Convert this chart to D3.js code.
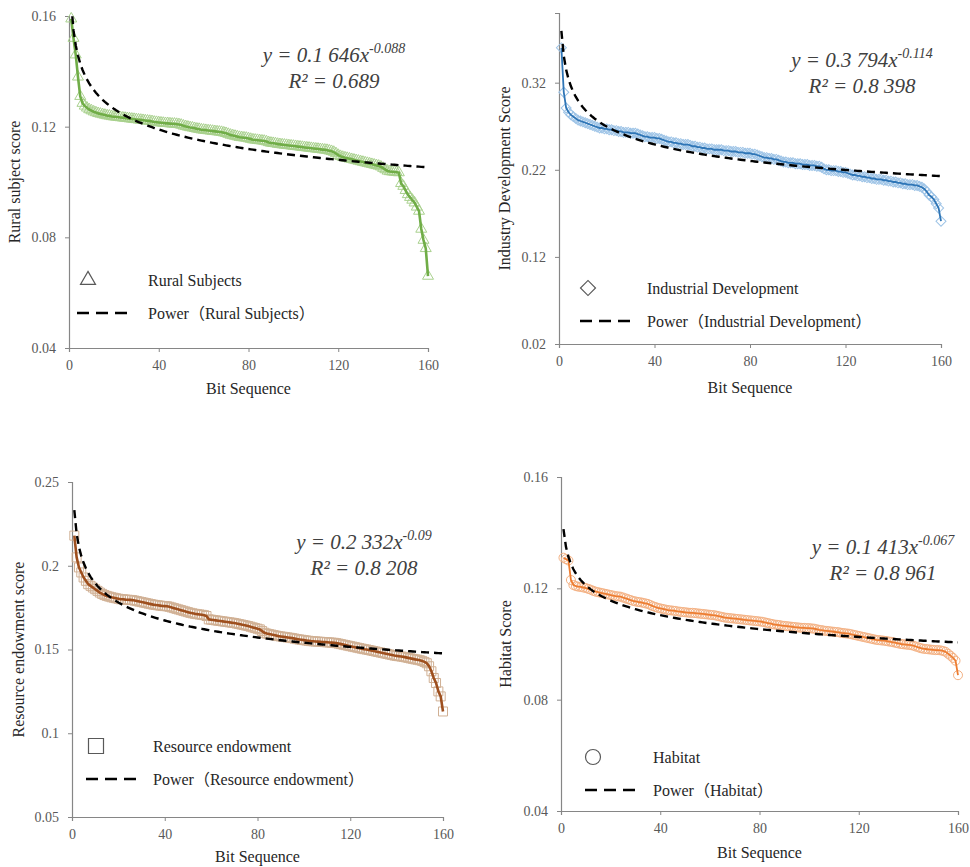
<!DOCTYPE html>
<html>
<head>
<meta charset="utf-8">
<script src="https://cdn.jsdelivr.net/npm/d3@7"></script>
<style>
	body { margin: 0; background: #fff; }
	svg text { font-family: "Times New Roman", "Liberation Serif", "Noto Sans CJK SC", serif; }
</style>
</head>
<body>
<script>
// bit sequence 1..160 (x of every point)
let bitSeq = d3.range(1, 161)

// values, sorted descending
let ruralSubjects = [
	0.159, 0.152, 0.146, 0.138, 0.131, 0.1285, 0.1275, 0.1268, 0.1262, 0.1258,
	0.1254, 0.1251, 0.1248, 0.1246, 0.1244, 0.1242, 0.1240, 0.1239, 0.1237, 0.1236,
	0.1235, 0.1234, 0.1233, 0.1232, 0.1231, 0.1230, 0.1229, 0.1228, 0.1227, 0.1226,
	0.1225, 0.1224, 0.1223, 0.1222, 0.1221, 0.1220, 0.1219, 0.1217, 0.1216, 0.1215,
	0.1214, 0.1213, 0.1212, 0.1212, 0.1211, 0.1210, 0.1210, 0.1209, 0.1208, 0.1206,
	0.1203, 0.1201, 0.1199, 0.1197, 0.1196, 0.1194, 0.1192, 0.1191, 0.1189, 0.1188,
	0.1187, 0.1186, 0.1185, 0.1184, 0.1183, 0.1182, 0.1181, 0.1180, 0.1178, 0.1176,
	0.1173, 0.1170, 0.1168, 0.1166, 0.1164, 0.1162, 0.1161, 0.1160, 0.1159, 0.1157,
	0.1155, 0.1153, 0.1152, 0.1151, 0.1150, 0.1149, 0.1148, 0.1146, 0.1143, 0.1141,
	0.1140, 0.1139, 0.1137, 0.1136, 0.1135, 0.1134, 0.1133, 0.1132, 0.1131, 0.1130,
	0.1129, 0.1128, 0.1127, 0.1126, 0.1125, 0.1124, 0.1123, 0.1122, 0.1121, 0.1120,
	0.1119, 0.1118, 0.1117, 0.1116, 0.1115, 0.1113, 0.1111, 0.1108, 0.1103, 0.1097,
	0.1093, 0.1090, 0.1088, 0.1086, 0.1084, 0.1082, 0.1080, 0.1078, 0.1076, 0.1074,
	0.1072, 0.1070, 0.1068, 0.1066, 0.1064, 0.1062, 0.1060, 0.1058, 0.1055, 0.1050,
	0.1045, 0.1040, 0.1038, 0.1037, 0.1036, 0.1035, 0.1034, 0.0995, 0.0985, 0.0970,
	0.0955, 0.0945, 0.0935, 0.0925, 0.0910, 0.0895, 0.0830, 0.0790, 0.0760, 0.0660
]
let industrialDev = [
	0.360, 0.309, 0.291, 0.286, 0.283, 0.281, 0.279, 0.277, 0.276, 0.275,
	0.274, 0.273, 0.272, 0.271, 0.270, 0.269, 0.268, 0.268, 0.267, 0.267,
	0.266, 0.266, 0.265, 0.265, 0.264, 0.264, 0.263, 0.263, 0.263, 0.262,
	0.262, 0.262, 0.261, 0.260, 0.259, 0.258, 0.258, 0.257, 0.257, 0.257,
	0.256, 0.256, 0.255, 0.254, 0.253, 0.252, 0.252, 0.251, 0.251, 0.250,
	0.250, 0.249, 0.249, 0.249, 0.248, 0.247, 0.247, 0.246, 0.246, 0.245,
	0.245, 0.244, 0.244, 0.244, 0.243, 0.243, 0.243, 0.243, 0.242, 0.242,
	0.242, 0.241, 0.241, 0.241, 0.240, 0.240, 0.240, 0.239, 0.239, 0.239,
	0.238, 0.238, 0.237, 0.236, 0.235, 0.234, 0.234, 0.233, 0.233, 0.232,
	0.232, 0.231, 0.230, 0.229, 0.229, 0.228, 0.228, 0.228, 0.227, 0.227,
	0.227, 0.226, 0.226, 0.226, 0.225, 0.225, 0.225, 0.224, 0.224, 0.223,
	0.221, 0.220, 0.220, 0.219, 0.219, 0.219, 0.218, 0.218, 0.217, 0.217,
	0.216, 0.215, 0.214, 0.214, 0.213, 0.213, 0.212, 0.212, 0.211, 0.211,
	0.210, 0.210, 0.209, 0.209, 0.209, 0.208, 0.208, 0.207, 0.207, 0.206,
	0.206, 0.205, 0.205, 0.204, 0.204, 0.203, 0.203, 0.203, 0.202, 0.202,
	0.201, 0.200, 0.198, 0.195, 0.191, 0.189, 0.186, 0.181, 0.176, 0.161
]
let resourceEnd = [
	0.218, 0.205, 0.199, 0.196, 0.193, 0.191, 0.189, 0.188, 0.187, 0.186,
	0.185, 0.184, 0.1832, 0.1825, 0.1820, 0.1816, 0.1812, 0.1809, 0.1806, 0.1803,
	0.1800, 0.1800, 0.1798, 0.1797, 0.1796, 0.1795, 0.1792, 0.1789, 0.1786, 0.1783,
	0.1780, 0.1777, 0.1774, 0.1771, 0.1768, 0.1766, 0.1764, 0.1762, 0.1760, 0.1759,
	0.1758, 0.1755, 0.1751, 0.1747, 0.1743, 0.1739, 0.1735, 0.1731, 0.1727, 0.1723,
	0.1719, 0.1716, 0.1713, 0.1711, 0.1709, 0.1707, 0.1705, 0.1700, 0.1680, 0.1678,
	0.1676, 0.1674, 0.1672, 0.1670, 0.1668, 0.1666, 0.1664, 0.1662, 0.1660, 0.1658,
	0.1655, 0.1652, 0.1649, 0.1646, 0.1643, 0.1640, 0.1636, 0.1632, 0.1628, 0.1624,
	0.1620, 0.1610, 0.1600, 0.1595, 0.1592, 0.1589, 0.1586, 0.1583, 0.1580, 0.1578,
	0.1576, 0.1574, 0.1572, 0.1570, 0.1568, 0.1565, 0.1562, 0.1560, 0.1558, 0.1556,
	0.1554, 0.1552, 0.1550, 0.1549, 0.1548, 0.1547, 0.1546, 0.1545, 0.1544, 0.1543,
	0.1542, 0.1541, 0.1540, 0.1538, 0.1535, 0.1532, 0.1529, 0.1526, 0.1523, 0.1520,
	0.1517, 0.1514, 0.1511, 0.1508, 0.1505, 0.1502, 0.1500, 0.1497, 0.1494, 0.1491,
	0.1488, 0.1485, 0.1482, 0.1479, 0.1476, 0.1473, 0.1470, 0.1467, 0.1464, 0.1462,
	0.1460, 0.1458, 0.1456, 0.1453, 0.1450, 0.1447, 0.1444, 0.1441, 0.1439, 0.1436,
	0.1432, 0.1426, 0.1418, 0.1400, 0.1370, 0.1330, 0.1300, 0.1250, 0.1220, 0.1130
]
let habitat = [
	0.1310, 0.1305, 0.1300, 0.1230, 0.1212, 0.1208, 0.1206, 0.1205, 0.1203, 0.1201,
	0.1198, 0.1195, 0.1191, 0.1188, 0.1186, 0.1184, 0.1182, 0.1180, 0.1178, 0.1176,
	0.1174, 0.1172, 0.1171, 0.1170, 0.1167, 0.1164, 0.1161, 0.1158, 0.1155, 0.1153,
	0.1151, 0.1150, 0.1148, 0.1146, 0.1144, 0.1140, 0.1136, 0.1133, 0.1130, 0.1128,
	0.1126, 0.1124, 0.1122, 0.1121, 0.1120, 0.1119, 0.1117, 0.1116, 0.1115, 0.1114,
	0.1113, 0.1112, 0.1112, 0.1111, 0.1110, 0.1109, 0.1108, 0.1107, 0.1106, 0.1105,
	0.1104, 0.1103, 0.1101, 0.1099, 0.1097, 0.1095, 0.1094, 0.1093, 0.1092, 0.1091,
	0.1090, 0.1089, 0.1088, 0.1087, 0.1086, 0.1085, 0.1084, 0.1083, 0.1082, 0.1081,
	0.1080, 0.1078, 0.1076, 0.1074, 0.1072, 0.1070, 0.1069, 0.1068, 0.1066, 0.1065,
	0.1064, 0.1063, 0.1062, 0.1061, 0.1060, 0.1059, 0.1058, 0.1058, 0.1057, 0.1057,
	0.1056, 0.1055, 0.1053, 0.1051, 0.1050, 0.1048, 0.1047, 0.1046, 0.1045, 0.1044,
	0.1043, 0.1042, 0.1040, 0.1039, 0.1038, 0.1037, 0.1035, 0.1033, 0.1031, 0.1029,
	0.1027, 0.1025, 0.1023, 0.1021, 0.1019, 0.1017, 0.1015, 0.1014, 0.1013, 0.1012,
	0.1011, 0.1009, 0.1008, 0.1006, 0.1004, 0.1002, 0.1000, 0.0999, 0.0998, 0.0997,
	0.0996, 0.0994, 0.0991, 0.0988, 0.0985, 0.0983, 0.0982, 0.0981, 0.0980, 0.0979,
	0.0978, 0.0978, 0.0977, 0.0975, 0.0972, 0.0965, 0.0958, 0.0950, 0.0940, 0.0888
]

// power fit coefficients (a, b) from the trendline labels
let fitA = [0.1646, 0.3794, 0.2332, 0.1413]
let fitB = [-0.088, -0.114, -0.09, -0.067]
let fitLabel = ['0.1 646', '0.3 794', '0.2 332', '0.1 413']
let fitExp = ['-0.088', '-0.114', '-0.09', '-0.067']
let fitR2 = ['0.689', '0.8 398', '0.8 208', '0.8 961']

let seriesNames = ['Rural Subjects', 'Industrial Development', 'Resource endowment', 'Habitat']
let yTitles = ['Rural subject score', 'Industry Development Score', 'Resource endowment score', 'Habitat Score']
let xTicks = [0, 40, 80, 120, 160]
let yTicks = [
	[0.04, 0.08, 0.12, 0.16],
	[0.02, 0.12, 0.22, 0.32],
	[0.05, 0.1, 0.15, 0.2, 0.25],
	[0.04, 0.08, 0.12, 0.16]
]
let yDomains = [[0.04, 0.16], [0.02, 0.40], [0.05, 0.25], [0.04, 0.16]]
let allSeries = [ruralSubjects, industrialDev, resourceEnd, habitat]

let serif = '"Times New Roman", "Liberation Serif", "Noto Sans CJK SC", serif'

// layout / style per panel
let panels = [
	{x0: 69,  x1: 428, yTop: 16,  yBot: 348, xTitleY: 394, yTitleX: 20,  eqX: 334, eqY: 62,  legY: 280, legX: 88,  legTx: 148, dashX: [77, 133],
		line: '#70AD47', lw: 2.6, mk: '#A9D18E', shape: 'triangle', ms: 11},
	{x0: 559, x1: 941, yTop: 13,  yBot: 344, xTitleY: 393, yTitleX: 510, eqX: 862, eqY: 67,  legY: 288, legX: 588, legTx: 647, dashX: [580, 633],
		line: '#2E75B6', lw: 1.8, mk: '#9DC3E6', shape: 'diamond', ms: 10},
	{x0: 72,  x1: 443, yTop: 482, yBot: 817, xTitleY: 862, yTitleX: 24,  eqX: 364, eqY: 549, legY: 746, legX: 96,  legTx: 153, dashX: [86, 137],
		line: '#9E4F1E', lw: 2.6, mk: '#D0B094', shape: 'square', ms: 9},
	{x0: 561, x1: 958, yTop: 477, yBot: 811, xTitleY: 858, yTitleX: 511, eqX: 883, eqY: 554, legY: 757, legX: 593, legTx: 653, dashX: [585, 638],
		line: '#ED7D31', lw: 1.8, mk: '#F4B183', shape: 'circle', ms: 9}
]

let svg = d3.select('body').append('svg')
	.attr('width', 970).attr('height', 867)

// s = rough width of the symbol in px
let markerPath = function(shape, s) {
	if (shape == 'triangle') return d3.symbol(d3.symbolTriangle, s*s*0.433)()
	if (shape == 'square') return d3.symbol(d3.symbolSquare, s*s)()
	if (shape == 'circle') return d3.symbol(d3.symbolCircle, Math.PI*s*s/4)()
	return d3.symbol(d3.symbolSquare, s*s/2)()
}

panels.forEach(function(p, k) {
	let data = allSeries[k]
	let x = d3.scaleLinear().domain([0, 160]).range([p.x0, p.x1])
	let y = d3.scaleLinear().domain(yDomains[k]).range([p.yBot, p.yTop])
	let g = svg.append('g')

	let clipId = 'clip' + k
	g.append('clipPath').attr('id', clipId).append('rect')
		.attr('x', p.x0).attr('y', p.yTop)
		.attr('width', p.x1 - p.x0 + 20).attr('height', p.yBot - p.yTop)

	// axes
	let yAxis = g.append('g').attr('transform', `translate(${p.x0},0)`)
		.call(d3.axisLeft(y).tickValues(yTicks[k]).tickSize(4).tickPadding(9).tickFormat(d3.format('')))
	let xAxis = g.append('g').attr('transform', `translate(0,${p.yBot})`)
		.call(d3.axisBottom(x).tickValues(xTicks).tickSize(4).tickPadding(8))
	;[xAxis, yAxis].forEach(function(a) {
		a.attr('font-family', serif)
		a.select('.domain').attr('stroke', '#868686').attr('stroke-width', 1.2)
		a.selectAll('.tick line').attr('stroke', '#868686')
		a.selectAll('.tick text').attr('fill', '#595959').style('font-size', '14px')
			.style('font-family', serif)
	})

	// markers
	let rot = p.shape == 'diamond' ? 45 : 0
	g.append('g').selectAll('path').data(data).join('path')
		.attr('d', markerPath(p.shape, p.ms))
		.attr('transform', (d, i) => `translate(${x(bitSeq[i])},${y(d)}) rotate(${rot})`)
		.attr('fill', 'none').attr('stroke', p.mk).attr('stroke-width', 1)

	// series line
	let line = d3.line().x((d, i) => x(bitSeq[i])).y(d => y(d))
	g.append('path').datum(data)
		.attr('d', line)
		.attr('fill', 'none').attr('stroke', p.line).attr('stroke-width', p.lw)

	// power trendline
	let fit = bitSeq.map(t => fitA[k]*Math.pow(t, fitB[k]))
	g.append('path').datum(fit)
		.attr('clip-path', `url(#${clipId})`)
		.attr('d', line)
		.attr('fill', 'none').attr('stroke', '#000').attr('stroke-width', 2.4)
		.attr('stroke-dasharray', '8,5')

	// axis titles
	g.append('text')
		.attr('x', (p.x0 + p.x1)/2).attr('y', p.xTitleY)
		.attr('text-anchor', 'middle').attr('fill', '#262626')
		.style('font-family', serif).style('font-size', '16px').text('Bit Sequence')
	g.append('text')
		.attr('transform', `translate(${p.yTitleX},${(p.yTop + p.yBot)/2}) rotate(-90)`)
		.attr('text-anchor', 'middle').attr('fill', '#262626')
		.style('font-family', serif).style('font-size', '16px').text(yTitles[k])

	// equation
	let eq = g.append('text')
		.attr('x', p.eqX).attr('y', p.eqY)
		.attr('text-anchor', 'middle').attr('fill', '#404040')
		.style('font-family', serif).style('font-size', '21px').style('font-style', 'italic')
	eq.append('tspan').text(`y = ${fitLabel[k]}x`)
	eq.append('tspan').attr('dy', -9).style('font-size', '14px').text(fitExp[k])
	g.append('text')
		.attr('x', p.eqX).attr('y', p.eqY + 26)
		.attr('text-anchor', 'middle').attr('fill', '#404040')
		.style('font-family', serif).style('font-size', '21px').style('font-style', 'italic')
		.text(`R² = ${fitR2[k]}`)

	// legend
	g.append('path')
		.attr('d', markerPath(p.shape, p.shape == 'diamond' ? 15 : 15))
		.attr('transform', `translate(${p.legX},${p.legY}) rotate(${rot})`)
		.attr('fill', 'none').attr('stroke', '#595959').attr('stroke-width', 1.2)
	g.append('text')
		.attr('x', p.legTx).attr('y', p.legY + 6)
		.attr('fill', '#262626').style('font-family', serif).style('font-size', '16px')
		.text(seriesNames[k])
	g.append('line')
		.attr('x1', p.dashX[0]).attr('x2', p.dashX[1])
		.attr('y1', p.legY + 33).attr('y2', p.legY + 33)
		.attr('stroke', '#000').attr('stroke-width', 2.4).attr('stroke-dasharray', '12,7')
	g.append('text')
		.attr('x', p.legTx).attr('y', p.legY + 39)
		.attr('fill', '#262626').style('font-family', serif).style('font-size', '16px')
		.text(`Power（${seriesNames[k]}）`)
})
</script>
</body>
</html>
